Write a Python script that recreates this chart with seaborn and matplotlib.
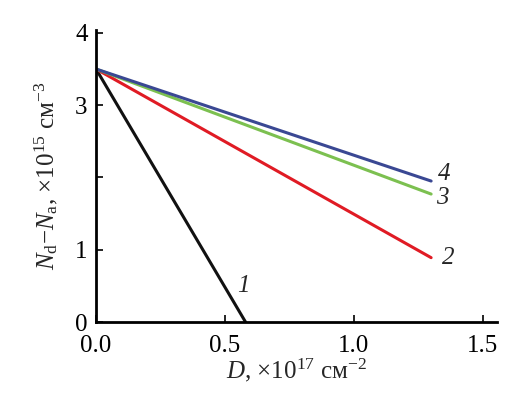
import matplotlib
matplotlib.use("Agg")
import matplotlib.pyplot as plt
import seaborn as sns
import pandas as pd

# Data
curve_ids = ["1", "2", "3", "4"]
dose_start = [0.0, 0.0, 0.0, 0.0]
dose_end = [0.58, 1.30, 1.30, 1.30]
conc_start = [3.5, 3.5, 3.5, 3.5]
conc_end = [0.0, 0.89, 1.77, 1.95]
label_x = [0.57, 1.365, 1.345, 1.35]
label_y = [0.5, 0.88, 1.72, 2.05]
colors = ["#111111", "#e01b24", "#7cc050", "#3a4893"]
x_ticks = [0.0, 0.5, 1.0, 1.5]
x_tick_labels = ["0.0", "0.5", "1.0", "1.5"]
y_ticks = [0, 1, 2, 3, 4]
y_tick_labels = ["0", "1", "", "3", "4"]

rows = []
for cid, x0, x1, y0, y1 in zip(curve_ids, dose_start, dose_end, conc_start, conc_end):
    rows.append({"curve": cid, "D": x0, "N": y0})
    rows.append({"curve": cid, "D": x1, "N": y1})
df = pd.DataFrame(rows)

sns.set_style("ticks")
plt.rcParams["font.family"] = ["Liberation Serif", "DejaVu Serif"]
plt.rcParams["mathtext.fontset"] = "custom"
plt.rcParams["mathtext.rm"] = "Liberation Serif"
plt.rcParams["mathtext.it"] = "Liberation Serif:italic"
plt.rcParams["mathtext.bf"] = "Liberation Serif:bold"

FAM = ["Liberation Serif", "DejaVu Serif"]

fig = plt.figure(figsize=(5.23, 4.19), dpi=100)
ax = fig.add_axes([0.1836, 0.2315, 0.7664, 0.697])

sns.lineplot(data=df, x="D", y="N", hue="curve", palette=colors,
             hue_order=curve_ids, linewidth=2.2, legend=False, ax=ax)

for cid, lx, ly in zip(curve_ids, label_x, label_y):
    ax.text(lx, ly, cid, fontsize=18, style="italic", ha="center", va="center", family=FAM)

ax.set_xlim(0, 1.555)
ax.set_ylim(0, 4.04)
ax.set_xticks(x_ticks)
ax.set_xticklabels(x_tick_labels, family=FAM, fontsize=18)
ax.set_yticks(y_ticks)
ax.set_yticklabels(y_tick_labels, family=FAM, fontsize=18)
ax.tick_params(axis="x", direction="in", length=5, width=1.2, pad=9, colors="black")
ax.tick_params(axis="y", direction="in", length=5, width=1.2, pad=6, colors="black")
for s in ["top", "right"]:
    ax.spines[s].set_visible(False)
for s in ["left", "bottom"]:
    ax.spines[s].set_linewidth(2)
    ax.spines[s].set_color("black")

ax.set_xlabel(r"$D$, $\times$10$^{17}$ см$^{-2}$", fontsize=18, labelpad=0, family=FAM)
ax.set_ylabel(r"$N_{\rm d}$$-$$N_{\rm a}$, $\times$10$^{15}$ см$^{-3}$", fontsize=18, labelpad=11, family=FAM)

fig.savefig("out.png", dpi=100)
